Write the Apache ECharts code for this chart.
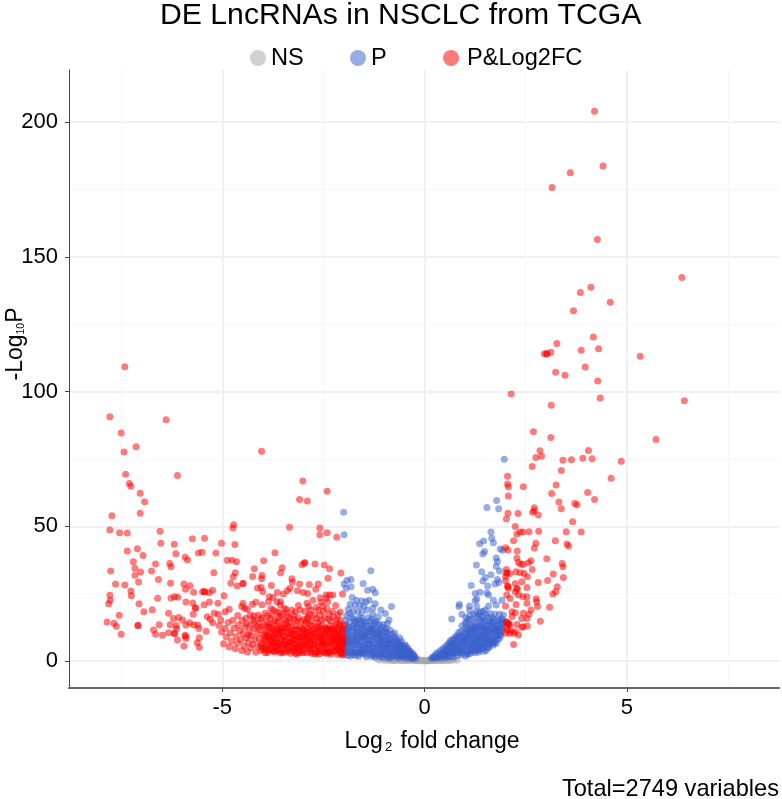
<!DOCTYPE html>
<html><head><meta charset="utf-8"><style>html,body{margin:0;padding:0;background:#fff}#c{width:782px;height:799px}</style>
<script src="https://cdn.jsdelivr.net/npm/echarts@6/dist/echarts.min.js"></script></head><body><div id="c"></div>
<script>
const xTickLabels=[-5,0,5];
const xMinorGrid=[-7.5,-2.5,2.5,7.5];
const yTickLabels=[0,50,100,150,200];
const yMinorGrid=[25,75,125,175];
const seriesNames=['NS','P','P&Log2FC'];
const redRightTop=[[4.20,204],[4.41,183.7],[3.60,181.2],[3.15,175.7],[4.27,156.4],[6.36,142.3],[4.11,138.7],[3.85,136.7],[4.59,133.1],[3.68,130],[4.17,120.2],[3.27,117.8],[3.87,115.3],[4.30,115.9],[3.12,114.6],[3.02,114],[3.02,114],[2.96,114],[5.33,113.1],[3.24,107.2],[3.47,106],[3.97,109.1],[4.28,103.9],[2.14,99.1],[4.34,97.6],[6.42,96.6],[3.13,94.9],[2.69,85.1],[3.12,82.9],[5.72,82.2],[2.85,78],[4.05,78.1],[2.89,76],[2.75,75.5],[3.42,74.5],[3.63,74.7],[3.91,75.2],[4.14,75.1],[4.86,74.1],[2.66,72.2],[3.38,70.7],[2.05,68.6],[4.61,67.8]];
const redRightLow=[[2.05,65.7],[2.07,64.7],[2.44,64.7],[2.07,61.2],[3.25,65.3],[3.14,62.2],[4.03,62.5],[4.20,59.9],[3.32,59],[3.38,56.5],[3.71,58.5],[3.77,58],[2.71,56.9],[2.71,55.8],[2.67,55.2],[2.81,54.2],[2.06,54.8],[2.31,54.7],[2.02,52.7],[3.66,51.7],[2.24,49.9],[2.36,47.9],[2.43,47.9],[2.28,47.1],[2.58,48],[2.82,48.2],[3.50,48],[3.87,47.9],[2.20,44.6],[2.75,43.7],[2.71,41.9],[3.23,44.6],[3.52,43.4],[3.56,42.7],[2.0,42],[2.06,41.2],[2.29,40.8],[2.28,38.2],[2.32,36.6],[2.63,37.2],[2.57,36.5],[2.44,35.9],[2.38,35.9],[3.02,38],[3.40,36.2],[3.42,35],[2.66,34],[2.02,34],[2.03,32.8],[2.03,32.6],[2.11,32.5],[2.26,33.1],[2.36,32.8],[2.46,32.5],[2.54,31.3],[3.18,32.3],[3.43,31],[3.04,29.9],[2.81,29.1],[3.28,27.6],[3.24,25.7],[3.17,24.9],[2.0,31.5],[2.0,29.8],[2.24,28.8],[2.40,29.4],[2.05,27.8],[2.06,27.6],[2.07,27],[2.53,27.3],[2.28,27],[2.29,26.6],[2.24,25.7],[2.32,24.5],[2.43,23.9],[2.53,23.9],[2.03,24.5],[2.11,23.2],[2.76,23.1],[2.77,22],[2.26,21],[2.53,21.4],[2.79,20.2],[3.09,20],[2.0,20.4],[2.16,18.3],[2.24,17.9],[2.44,17.7],[2.63,18.9],[2.58,17.4],[2.40,15.8],[2.53,15.8],[2.86,14.8],[2.16,16.5],[2.28,13.6],[2.54,13],[2.44,12.7],[2.02,14.6],[2.03,14.3],[2.07,14],[2.08,13.7],[2.11,13.4],[2.02,12.7],[2.0,10.3],[2.1,10.3],[2.2,10.3],[2.32,9.7],[2.24,10.9],[2.2,6.1],[2.40,12.5],[2.05,11.5],[2.13,11.2]];
const redLeftSparse=[[-7.41,109.2],[-7.78,90.6],[-6.39,89.5],[-7.50,84.6],[-7.13,79.5],[-7.43,77.6],[-7.39,69.3],[-6.11,68.8],[-7.30,65.9],[-7.26,64.9],[-7.03,62.3],[-6.92,59.1],[-7.73,53.9],[-7.03,54.8],[-4.03,77.8],[-3.01,66.8],[-2.41,63],[-3.09,59.9],[-2.90,59.4],[-3.34,49.6],[-2.59,49.4],[-2.41,47.6],[-2.59,46.9],[-2.17,45.9],[-3.70,40.2],[-3.98,37.2],[-2.97,36.4],[-2.96,36.5],[-3.03,35.7],[-2.71,36],[-2.48,35.6],[-2.35,34.2],[-4.21,34.2],[-3.52,34.6],[-3.56,32.8],[-4.25,31.4],[-4.02,31.7],[-4.03,30.5],[-2.07,32.7],[-2.39,30.7],
[-7.78,48.6],[-7.54,47.6],[-7.35,47.5],[-6.54,48.2],[-6.52,43.7],[-6.19,43.3],[-5.74,45.4],[-5.44,45.6],[-5.02,43.7],[-4.72,50.6],[-4.74,49.4],[-4.69,43.2],[-7.35,40.8],[-7.10,41.7],[-6.96,39.2],[-6.15,39.8],[-5.92,38.5],[-5.86,37.5],[-5.59,40.1],[-5.50,40.4],[-5.16,40.1],[-4.88,37.4],[-4.76,37.4],[-4.65,36.8],[-7.20,36.8],[-7.16,34.4],[-7.02,33],[-7.16,31.8],[-7.76,33.4],[-6.65,36],[-6.30,36.2],[-6.27,35],[-6.75,33.4],[-6.58,30.3],[-7.07,29.3],[-7.64,28.6],[-7.41,28.2],[-7.26,26],[-7.25,24.2],[-7.78,24.4],[-7.77,22.6],[-7.81,21.3],[-6.28,28.9],[-5.21,32.8],[-4.68,32.8],[-4.73,31.3],[-4.79,28.9],[-4.49,28.8],[-4.63,27.8],[-5.95,28.6],[-5.80,27.9],[-5.91,26.6],[-5.71,25.5],[-5.49,25.7],[-5.45,25.7],[-5.43,25.7],[-5.24,26.3],[-5.32,25.3],[-4.96,24.2],[-6.60,23.3],[-6.27,23.4],[-6.18,23.9],[-6.10,23.7],[-7.06,21.3],[-6.73,19],[-6.94,18.3],[-7.55,17],[-7.85,14.5],[-7.68,14],[-7.62,12.9],[-7.50,9.9],[-7.09,13.2],[-7.08,13.2],[-6.33,17.7],[-5.90,21.9],[-5.73,21.5],[-5.45,20.9],[-5.32,21.9],[-5.11,21.4],[-5.67,19.8],[-5.66,19.6],[-5.72,17.4],[-6.21,15.8],[-6.08,16.2],[-5.98,15.2],[-6.56,13.5],[-6.70,11.5],[-6.65,9.9],[-6.48,9.6],[-6.29,13.5],[-6.14,13.2],[-6.13,12.1],[-6.33,10.5],[-6.19,10.3],[-6.18,10.2],[-5.90,13.4],[-5.81,14.2],[-5.71,13.4],[-5.61,13.4],[-5.58,12.1],[-5.92,9.6],[-5.91,9.2],[-5.90,8.4],[-6.11,7.8],[-5.95,5.6],[-5.57,8.6],[-5.62,6.8],[-5.57,5.1],[-5.40,11.1],[-5.37,16.4],[-5.30,15.5],[-5.20,17.7],[-5.10,17.4],[-5.24,14.2],[-5.04,15.2],[-4.93,18.3],[-4.83,19.2]];
const redMidScatter=[[-4.49,28.8],[-4.13,27.1],[-4.04,27.3],[-4.0,25.7],[-3.79,28],[-3.33,27],[-3.39,26.1],[-3.49,24.9],[-3.64,25.4],[-3.84,23.9],[-3.75,23.6],[-3.86,22],[-3.65,22],[-3.56,22],[-4.02,20.9],[-4.26,21.1],[-4.17,21.8],[-4.49,21.4],[-4.52,20.2],[-4.45,19.5],[-4.38,19.2],[-3.14,26.1],[-3.0,25.4],[-2.89,25.1],[-3.28,30.5],[-3.27,29.3],[-3.09,28.6],[-2.85,28.4],[-2.63,28.6],[-2.69,26.6],[-2.03,24.9],[-2.43,24.5],[-2.35,24.5],[-2.27,24.5],[-2.58,23.5],[-2.76,22.6],[-2.56,21.8],[-2.68,19.9],[-2.91,21.4],[-2.87,20.2],[-2.81,18.9],[-2.43,23.3],[-2.40,22],[-2.20,20.6],[-2.42,19.5],[-2.09,18.2],[-2.36,17.4],[-2.58,17],[-2.68,15.8],[-2.87,16.5],[-3.08,18.9],[-3.28,18.9],[-3.2,18.3],[-3.47,19.5],[-3.57,20.8],[-3.41,17.7],[-3.67,18.3],[-3.74,18.9],[-3.94,17.7],[-4.11,17],[-4.22,16.8],[-4.31,17.1],[-4.51,15],[-4.40,13.7],[-4.31,13.4],[-4.11,14],[-4.03,12.7],[-2.09,15.2],[-2.17,15.2],[-3.24,17],[-3.32,15.8],[-3.57,16.5],[-3.82,15.8],[-3.9,14.6],[-2.47,15.9],[-2.98,15.4],[-3.12,16.1],[-3.47,15.2],[-3.7,14.9],[-3.05,14.8],[-2.25,16.3],[-2.8,14.9]];
const redDense=[[-5.08,13.2],[-5.02,10.8],[-4.97,6.4],[-4.93,12.1],[-4.9,8.9],[-4.86,14.3],[-4.83,5.2],[-4.8,10.4],[-4.77,7.3],[-4.74,15.1],[-4.71,12.3],[-4.68,4.6],[-4.66,9.1],[-4.62,6.6],[-4.6,13.4],[-4.57,11.2],[-4.54,7.9],[-4.52,3.9],[-4.49,10.1],[-4.46,5.6],[-4.44,12.6],[-4.41,8.6],[-4.38,3.4],[-4.36,6.9],[-4.33,11.1],[-4.3,4.8],[-4.28,9.3],[-4.25,6.2],[-4.22,12.2],[-4.19,7.9],[-4.17,3.3],[-4.14,10.4],[-4.12,5.4],[-4.09,8.4],[-4.07,11.6],[-4.04,3.9],[-4.02,6.8],[-3.99,9.7],[-3.97,13.3],[-3.95,4.9],[-3.93,7.6],[-3.9,11.3],[-3.88,3.2],[-3.86,6.1],[-3.84,9.1],[-3.82,12.6],[-3.8,4.4],[-3.78,7.2],[-3.76,10.3],[-3.74,14.1],[-3.72,3.4],[-3.7,5.7],[-3.68,8.5],[-3.66,11.9],[-3.64,4.1],[-3.62,6.7],[-3.6,9.6],[-3.58,13.2],[-3.56,3],[-3.54,5.2],[-3.52,7.8],[-3.5,10.9],[-3.48,3.9],[-3.46,6.3],[-3.44,9.1],[-3.42,12.4],[-3.4,4.7],[-3.38,7.1],[-3.36,10.1],[-3.34,14.2],[-3.32,2.9],[-3.3,5.6],[-3.28,8.3],[-3.26,11.5],[-3.24,3.8],[-3.22,6.4],[-3.2,9.3],[-3.18,13.1],[-3.16,2.6],[-3.14,5],[-3.12,7.5],[-3.1,10.6],[-3.08,3.6],[-3.06,6.1],[-3.04,8.8],[-3.02,12.1],[-3,4.4],[-2.98,7],[-2.96,9.9],[-2.94,13.7],[-2.92,3.1],[-2.9,5.5],[-2.88,8.1],[-2.86,11.2],[-2.84,3.9],[-2.82,6.4],[-2.8,9.2],[-2.78,12.8],[-2.76,2.7],[-2.74,4.9],[-2.72,7.5],[-2.7,10.4],[-2.68,3.4],[-2.66,5.9],[-2.64,8.7],[-2.62,11.9],[-2.6,2.5],[-2.58,4.6],[-2.56,7.1],[-2.54,9.8],[-2.52,13.4],[-2.5,3.2],[-2.48,5.6],[-2.46,8.2],[-2.44,11.1],[-2.42,2.8],[-2.4,4.9],[-2.38,7.4],[-2.36,10.1],[-2.34,13.1],[-2.32,2.5],[-2.3,5.2],[-2.28,7.8],[-2.26,10.6],[-2.24,3.5],[-2.22,6.1],[-2.2,8.9],[-2.18,12.2],[-2.16,2.4],[-2.14,4.5],[-2.12,7],[-2.1,9.6],[-2.08,12.9],[-2.06,3],[-2.05,5.4],[-2.04,8.1],[-2.03,10.7],[-2.02,2.2],[-2.01,6.3],[-2,13.5],[-4.35,9.6],[-4.15,12.9],[-3.95,10.2],[-3.75,12.3],[-3.61,12.2],[-3.55,8.3],[-3.45,13.7],[-3.37,5.6],[-3.29,12.9],[-3.21,4.4],[-3.13,11.6],[-3.03,5.6],[-2.97,11.2],[-2.89,6.7],[-2.83,13.6],[-2.77,8.1],[-2.71,12.1],[-2.65,3.4],[-2.59,9.4],[-2.53,6.1],[-2.47,3.4],[-2.41,9],[-2.35,3.4],[-2.31,11.9],[-2.27,4.1],[-2.19,5.2],[-2.15,10.3],[-2.11,3.6],[-2.07,7],[-3.69,10.4],[-3.83,7.9],[-3.89,9.1],[-3.79,5.8],[-3.65,7.1],[-3.53,12.3],[-3.43,6.1],[-3.35,8.6],[-3.25,9.9],[-3.17,8.1],[-3.09,9.1],[-3.01,9.7],[-2.93,7.9],[-2.85,9.7],[-2.75,10.1],[-2.63,6.9],[-2.55,11.9],[-2.45,12.4],[-2.37,11.6],[-2.29,9.4],[-2.21,11.1],[-2.13,11.6],[-2.09,5.9]];
const redDenseMore=[[-4.2,14.8],[-4.05,15.6],[-3.88,16.9],[-3.77,17],[-3.6,18.1],[-3.52,17.4],[-3.37,16.6],[-3.16,14.9],[-2.92,14.6],[-2.72,17.1],[-2.5,18.4],[-2.33,14.9],[-2.14,17.3],[-2.56,15.1],[-3.98,4.4],[-3.92,9.2],[-3.87,12.6],[-3.81,8.4],[-3.77,3.9],[-3.73,11.4],[-3.71,8.1],[-3.67,5.1],[-3.63,9.9],[-3.59,3.7],[-3.57,11.1],[-3.51,5.9],[-3.49,9.1],[-3.47,12.3],[-3.41,3.4],[-3.39,10.6],[-3.33,6.9],[-3.31,11.1],[-3.27,4.6],[-3.23,7.9],[-3.19,11.6],[-3.15,6.1],[-3.11,3.1],[-3.07,12.6],[-3.05,7.4],[-2.99,3.3],[-2.95,5.9],[-2.91,10.6],[-2.87,4.9],[-2.81,3.1],[-2.79,11.1],[-2.73,5.9],[-2.69,8.9],[-2.67,12.9],[-2.61,5.2],[-2.57,8.4],[-2.51,10.6],[-2.49,7.1],[-2.43,4],[-2.39,11.6],[-2.33,6.4],[-2.25,8.4],[-2.23,12.9],[-2.17,7.9],[-2.12,4.9],[-2.1,13.6],[-2.06,9.4],[-2.04,4.1],[-2.03,11.9],[-2.01,8.9],[-4.06,6],[-4.01,5],[-3.96,7.9],[-3.91,5.6],[-3.85,4],[-3.75,6.6],[-3.69,3.6],[-3.63,5.6],[-3.55,10.6],[-3.45,7.6],[-3.35,3.9],[-3.29,7.1],[-3.19,5.4],[-3.13,9.1],[-3.03,3.2],[-2.97,8.6],[-2.89,12.1],[-2.83,7.6],[-2.75,6.1],[-2.65,10.6],[-2.59,3.6],[-2.53,8],[-2.47,10],[-2.41,6.4],[-2.37,3.1],[-2.31,7.1],[-2.27,11.6],[-2.21,3.9],[-2.15,6.4],[-2.11,8.1],[-2.07,2.6],[-2.05,11.6]];
const redDenseThird=[[-4.62,16.9],[-4.42,15.9],[-4.25,15.4],[-4.02,16.1],[-3.8,19.4],[-3.62,15.9],[-3.42,19.1],[-3.12,20.6],[-2.96,18.4],[-2.84,17.4],[-2.62,18.9],[-2.52,20.4],[-2.28,18.4],[-2.18,13.9],[-2.38,15.6],[-2.64,14.4],[-2.9,15.9],[-3.22,15.4],[-3.42,14.9],[-3.62,14.4],[-3.85,13.6],[-3.94,3.1],[-3.83,10.6],[-3.73,8.9],[-3.6,6.1],[-3.5,3.1],[-3.38,12.9],[-3.28,10.1],[-3.2,2.9],[-3.1,5.1],[-3,11.6],[-2.9,9.1],[-2.8,4.4],[-2.7,2.6],[-2.6,12.6],[-2.5,6.4],[-2.42,12.1],[-2.33,9.1],[-2.24,7.4],[-2.16,9.4],[-2.08,4.6],[-2.03,6.9]];
const blueSparse=[[1.97,74.9],[-2.0,55.2],[-1.99,46.9],[-1.33,33.5],[-1.82,30.3],[-1.92,30],[-1.99,28.6],[-1.94,27],[-1.82,27.6],[-1.52,28.8],[-1.41,26.3],[-1.28,26.6],[-1.22,25.3],[-1.79,23.6],[-1.68,22.6],[-1.55,22.4],[-1.45,22],[-1.37,22.6],[-1.84,21.1],[-1.72,20.9],[-1.6,20.4],[-1.5,20.2],[-1.22,21.3],[-1.28,19.6],[-0.82,20.2],[-1.08,18.9],[-1.28,17.4],[-0.97,17.6],[-1.14,16.4],[-1.89,19.2],[-1.76,18.6],[-1.65,18.3],[-1.55,17.9],[-1.42,18.9],[-1.93,16.9],[-1.8,16.3],[-0.88,15.2],
[1.78,59.6],[1.54,57],[1.83,56.5],[1.64,47.9],[1.46,44.5],[1.36,43.5],[1.66,45.6],[1.70,43.9],[1.87,41.6],[1.93,41.1],[1.48,40.6],[1.44,39.7],[1.77,38.2],[1.80,36.9],[1.28,35.6],[1.77,35.2],[1.85,33.4],[1.41,33.1],[1.64,32],[1.50,31],[1.44,29.7],[1.80,30.3],[1.83,29.1],[1.74,28.6],[1.15,28],[1.56,27.8],[1.37,25.5],[1.25,25.1],[1.54,25.3],[1.58,24.5],[1.29,23],[1.25,22.4],[1.70,22.6],[1.91,22.6],[1.77,20.8],[0.86,21.1],[0.85,20.2],[1.11,20.4],[1.29,20.2],[1.58,20.4],[1.50,18.9],[1.11,18.9],[0.92,17.4],[0.67,15.6],[1.74,17.4],[1.85,17.4],[1.95,17.1],[1.37,18.3],[1.95,14],[1.91,10.9],[1.62,17.6],[1.22,17.4],[1.02,16.2],[1.84,14.9]];
const blueLeftDense=[[-1.99,2.4],[-1.98,5.1],[-1.97,8.3],[-1.96,11.6],[-1.95,13.2],[-1.93,3.2],[-1.91,6.6],[-1.89,9.8],[-1.87,12.7],[-1.85,14.6],[-1.83,1.9],[-1.81,4.4],[-1.79,7.6],[-1.77,10.9],[-1.75,13.4],[-1.73,3.1],[-1.71,5.9],[-1.69,8.9],[-1.67,11.8],[-1.65,15],[-1.63,1.8],[-1.61,4.3],[-1.59,7.3],[-1.57,10.2],[-1.55,12.9],[-1.53,2.7],[-1.51,5.5],[-1.49,8.4],[-1.47,11.1],[-1.45,14.3],[-1.43,1.6],[-1.41,3.9],[-1.39,6.6],[-1.37,9.4],[-1.35,12.2],[-1.33,2.4],[-1.31,5],[-1.29,7.7],[-1.27,10.4],[-1.25,13.8],[-1.23,1.5],[-1.21,3.5],[-1.19,6],[-1.17,8.6],[-1.15,11.2],[-1.13,2.2],[-1.11,4.4],[-1.09,6.9],[-1.07,9.4],[-1.05,12.6],[-1.03,1.3],[-1.01,3.2],[-0.99,5.4],[-0.97,7.8],[-0.95,10.4],[-0.93,2],[-0.91,3.9],[-0.89,6.1],[-0.87,8.5],[-0.85,11.4],[-0.83,1.2],[-0.81,2.9],[-0.79,4.8],[-0.77,6.9],[-0.75,9.1],[-0.73,1.8],[-0.71,3.5],[-0.69,5.3],[-0.67,7.2],[-0.65,1.1],[-0.63,2.5],[-0.61,4.1],[-0.59,5.7],[-0.57,7.4],[-0.55,1.5],[-0.53,2.9],[-0.51,4.4],[-0.49,6],[-0.47,1],[-0.45,2.2],[-0.43,3.4],[-0.41,4.7],[-0.39,1.3],[-0.37,2.4],[-0.35,3.6],[-0.33,0.9],[-0.31,1.8],[-0.29,2.8],[-0.27,1.1],[-0.25,2],[-0.22,1],[-1.96,3.9],[-1.92,10.6],[-1.88,4.9],[-1.84,8.7],[-1.8,12.3],[-1.76,2.4],[-1.72,7.3],[-1.68,13.9],[-1.64,6],[-1.6,9.6],[-1.56,3.5],[-1.52,11.9],[-1.48,6.2],[-1.44,9.1],[-1.4,13.2],[-1.36,4.4],[-1.32,10.8],[-1.28,3.4],[-1.24,8.1],[-1.2,12.3],[-1.16,5.1],[-1.12,9.8],[-1.08,3.2],[-1.04,7.9],[-1,10.9],[-0.96,4.4],[-0.92,8.6],[-0.88,2.9],[-0.84,6.6],[-0.8,9.9],[-0.76,3.9],[-0.72,6],[-0.68,2.1],[-0.64,4.9],[-0.6,6.6],[-0.56,3.4],[-0.52,1.9],[-0.48,4.9],[-0.44,2.7],[-0.4,3.9],[-0.36,1.7],[-0.32,2.4],[-1.7,2.1],[-1.5,3.2],[-1.3,1.7],[-1.1,1.7],[-0.9,1.2],[-1.6,12.1],[-1.42,11.4],[-1.26,11.6],[-1.1,12],[-0.94,12.1],[-1.86,6.9],[-1.66,3.4],[-1.46,4.6],[-1.26,6.4],[-1.06,5.2],[-0.86,4.6]];
const blueLeftMore=[[-1.97,6.4],[-1.94,9.4],[-1.9,2.1],[-1.86,11.2],[-1.82,5.6],[-1.78,3.4],[-1.74,9.6],[-1.7,12.6],[-1.66,8.1],[-1.62,2.9],[-1.58,5.6],[-1.54,8.9],[-1.5,13.6],[-1.46,2.4],[-1.42,7.6],[-1.38,10.9],[-1.34,6.1],[-1.3,13.1],[-1.26,2.4],[-1.22,9.9],[-1.18,3.9],[-1.14,7.4],[-1.1,10.6],[-1.06,2.6],[-1.02,6.1],[-0.98,9.1],[-0.94,6.4],[-0.9,10.1],[-0.86,1.9],[-0.82,7.9],[-0.78,2.4],[-0.74,5.4],[-0.7,7.9],[-0.66,3.4],[-0.62,5.6],[-0.58,1.9],[-0.54,5.4],[-0.5,3.4],[-0.46,5.6],[-0.42,1.9],[-0.38,3.1],[-0.34,2.4],[-0.3,1.2],[-0.26,1.6],[-1.95,15.1],[-1.75,15.6],[-1.55,15.9],[-1.35,14.9],[-1.18,14.4],[-1.02,13.6],[-1.72,14.6],[-1.52,14.9],[-1.3,15.6],[-1.12,13.6],[-0.92,13.9],[-0.74,10.4],[-0.62,8.6],[-1.85,17.6],[-1.62,15.9],[-1.4,16.1]];
const blueLeftThird=[[-1.98,7.1],[-1.95,4.1],[-1.92,8.4],[-1.88,7.4],[-1.84,3.2],[-1.8,6.4],[-1.76,8.6],[-1.72,4.4],[-1.68,6.6],[-1.64,10.6],[-1.6,3.1],[-1.56,7.9],[-1.52,5.1],[-1.48,10.1],[-1.44,3.4],[-1.4,6.1],[-1.36,7.9],[-1.32,3.6],[-1.28,9.1],[-1.24,5.4],[-1.2,2.4],[-1.16,9.9],[-1.12,6.1],[-1.08,8.1],[-1.04,4.6],[-1,2.4],[-0.96,6.4],[-0.92,4.9],[-0.88,7.4],[-0.84,3.6],[-0.8,5.9],[-0.76,2.4],[-0.72,8.1],[-0.68,4.4],[-0.64,6.1],[-0.6,2.6],[-0.56,4.9],[-0.52,3.6],[-0.48,2.4],[-0.44,4.1],[-0.4,2.6],[-0.36,2.9],[-1.9,12.4],[-1.7,10.6],[-1.5,9.6],[-1.3,11.9],[-1.1,7.6],[-0.98,11.6],[-1.58,13.9],[-1.22,14.9]];
const blueRightDense=[[0.17,0.9],[0.2,1.5],[0.23,1.1],[0.25,2.1],[0.27,1.3],[0.29,2.8],[0.31,1.1],[0.33,2.1],[0.35,3.4],[0.37,1.4],[0.39,2.6],[0.41,4.1],[0.43,1.2],[0.45,2.9],[0.47,4.8],[0.49,1.6],[0.51,3.4],[0.53,5.6],[0.55,1.3],[0.57,2.8],[0.59,4.6],[0.61,6.8],[0.63,1.7],[0.65,3.4],[0.67,5.4],[0.69,8.1],[0.71,1.4],[0.73,2.9],[0.75,4.6],[0.77,6.6],[0.79,9.4],[0.81,2],[0.83,3.8],[0.85,5.6],[0.87,7.8],[0.89,10.9],[0.91,2.4],[0.93,4.2],[0.95,6.4],[0.97,8.6],[0.99,12.1],[1.01,1.9],[1.03,3.4],[1.05,5.4],[1.07,7.4],[1.09,9.9],[1.11,13.4],[1.13,2.9],[1.15,4.6],[1.17,6.8],[1.19,9],[1.21,11.6],[1.23,14.6],[1.25,3.1],[1.27,5.4],[1.29,7.6],[1.31,10.1],[1.33,12.9],[1.35,15.8],[1.37,4.1],[1.39,6.2],[1.41,8.6],[1.43,11.4],[1.45,14.4],[1.47,3.6],[1.49,5.6],[1.51,7.9],[1.53,10.4],[1.55,13.1],[1.57,16.2],[1.59,4.9],[1.61,7.1],[1.63,9.4],[1.65,12],[1.67,14.9],[1.69,5.9],[1.71,8.2],[1.73,10.8],[1.75,13.4],[1.77,6.6],[1.79,9.4],[1.81,12.2],[1.83,15.2],[1.85,8.4],[1.87,11.2],[1.89,13.9],[1.93,12.3],[0.42,2.6],[0.5,2.4],[0.56,4.1],[0.6,3.2],[0.66,6.6],[0.7,4.2],[0.74,7.9],[0.78,3.4],[0.82,6.9],[0.86,9.2],[0.9,4.9],[0.94,7.6],[0.98,10.4],[1.02,6.4],[1.06,8.8],[1.1,3.9],[1.14,11.1],[1.18,8],[1.22,5.6],[1.26,12.6],[1.3,8.8],[1.34,6.1],[1.38,10.6],[1.42,13.6],[1.46,9.4],[1.5,12.4],[1.54,6.6],[1.58,14.8],[1.62,11.1],[1.66,8.4],[1.7,13.2],[1.74,7.4],[1.78,11.2],[1.82,9.7],[0.92,13.1],[1.04,14.4],[1.16,15.6],[1.3,16.4],[1.44,16.4],[1.08,2.6],[1.2,3.6],[1.34,3.4],[1.46,4.8],[1.6,6]];
const blueRightMore=[[0.48,3.6],[0.54,2.2],[0.58,6.1],[0.62,4.4],[0.64,7.6],[0.68,2.6],[0.72,6.1],[0.76,8.8],[0.8,4.9],[0.84,10.6],[0.88,3.4],[0.92,9.4],[0.96,5.1],[1,7.6],[1,14.1],[1.04,9.4],[1.08,11.4],[1.12,5.6],[1.12,8.6],[1.16,12.9],[1.2,6.9],[1.24,10.4],[1.28,4.1],[1.28,13.9],[1.32,7.4],[1.36,12.4],[1.36,5.1],[1.4,9.6],[1.4,15.1],[1.44,6.9],[1.48,12.1],[1.48,14.9],[1.52,9.1],[1.56,5.1],[1.56,11.6],[1.6,13.4],[1.6,8.4],[1.64,6.6],[1.68,10.6],[1.72,6.6],[1.72,15.4],[1.76,9.4],[1.8,13.4],[1.84,11.4],[1.88,9.4],[1.9,15.6],[1.68,16.1],[1.52,17.1],[1.36,17.4],[1.16,12.4],[1.08,15.4],[1.24,12.1],[1.52,3.9],[1.42,5.1]];
const blueRightThird=[[0.52,4.4],[0.58,3.4],[0.64,5.6],[0.7,6.6],[0.72,3.4],[0.78,5.4],[0.82,8.4],[0.84,3.1],[0.88,6.4],[0.92,3.1],[0.96,7.1],[1,4.6],[1,9.6],[1.04,2.6],[1.04,12.1],[1.08,6.1],[1.12,10.4],[1.16,3.9],[1.16,9.9],[1.2,5.1],[1.24,8.1],[1.28,6.4],[1.28,11.1],[1.32,4.4],[1.32,9.4],[1.36,8.1],[1.4,4.9],[1.4,12.4],[1.44,8.4],[1.48,7.1],[1.48,10.1],[1.52,11.1],[1.56,8.1],[1.6,10.6],[1.64,14.1],[1.68,7.1],[1.72,12.1],[1.76,11.6],[1.8,7.9],[1.84,9.9],[1.88,12.4],[1.94,15.1],[1.44,18.4],[1.28,18.1],[1.12,16.9]];
const grayNS=[[-1.18,0.9],[-1.12,0.4],[-1.05,0.6],[-0.98,0.2],[-0.93,0.8],[-0.87,0.4],[-0.82,0.1],[-0.78,0.7],[-0.73,0.3],[-0.69,0.9],[-0.64,0.2],[-0.6,0.6],[-0.56,0.1],[-0.52,0.7],[-0.48,0.3],[-0.44,0.8],[-0.4,0.1],[-0.37,0.5],[-0.33,0.3],[-0.3,0.7],[-0.26,0.1],[-0.23,0.5],[-0.2,0.2],[-0.17,0.7],[-0.14,0.1],[-0.11,0.4],[-0.08,0.1],[-0.05,0.3],[-0.02,0],[0.01,0.2],[0.04,0],[0.07,0.3],[0.1,0.1],[0.13,0.5],[0.16,0.2],[0.19,0.1],[0.22,0.5],[0.25,0.1],[0.28,0.6],[0.31,0.2],[0.35,0.7],[0.39,0.1],[0.43,0.5],[0.47,0.2],[0.51,0.7],[0.55,0.1],[0.6,0.5],[0.66,0.2],[0.72,0.5],[-0.9,0.5],[-0.75,0.1],[-0.62,0.4],[-0.5,0.1],[-0.42,0.4],[-0.28,0.3],[-0.18,0.3],[-0.09,0.2],[0.02,0.1],[0.12,0.2],[0.2,0.3],[0.3,0.4],[0.37,0.3],[0.45,0.3],[0.58,0.3],[0.8,0.3]];
const red=[].concat(redRightTop,redRightLow,redLeftSparse,redMidScatter,redDense,redDenseMore,redDenseThird);
const blue=[].concat(blueSparse,blueLeftDense,blueLeftMore,blueLeftThird,blueRightDense,blueRightMore,blueRightThird);
const sym=7;
const F='"Liberation Sans",Arial,sans-serif';
const chart=echarts.init(document.getElementById('c'));
const mk=(n,d,c)=>({name:n,type:'scatter',data:d,symbolSize:sym,itemStyle:{color:c,opacity:0.52,borderWidth:0},silent:true,animation:false,clip:false});
const subRich={a:{fontFamily:F,fontSize:23,color:'#000'},b:{fontFamily:F,fontSize:13,color:'#000',verticalAlign:'bottom',padding:[11,2,0,2]}};
const subRichY={a:{fontFamily:F,fontSize:23,color:'#000'},b:{fontFamily:F,fontSize:10.5,color:'#000',verticalAlign:'bottom',padding:[12,0,0,0]}};
const legendBase={top:41,itemWidth:16,itemHeight:16,icon:'circle',textStyle:{fontFamily:F,fontSize:23.6,color:'#000'}};
chart.setOption({animation:false,backgroundColor:'#fff',
title:[{text:'DE LncRNAs in NSCLC from TCGA',left:155,top:-4,textStyle:{fontFamily:F,fontWeight:'normal',fontSize:30.2,color:'#000'}},
{text:'Total=2749 variables',right:-2,top:772,textStyle:{fontFamily:F,fontWeight:'normal',fontSize:23.6,color:'#000'}}],
legend:[{...legendBase,left:245,data:[seriesNames[0]]},{...legendBase,left:345,data:[seriesNames[1]]},{...legendBase,left:438,data:[{name:seriesNames[2],textStyle:{padding:[0,0,0,3]}}]}],
grid:{left:69,right:3,top:70,bottom:111,outerBoundsMode:'none',containLabel:false},
xAxis:[{type:'value',min:-8.79,max:8.76,name:'{a|Log}{b|2}{a| fold change}',nameLocation:'middle',nameGap:42,
nameTextStyle:{padding:[0,0,0,16],rich:subRich},
axisLine:{onZero:false,lineStyle:{color:'#666',width:2}},axisTick:{show:true,length:4,lineStyle:{color:'#444'},customValues:xTickLabels},
axisLabel:{fontFamily:F,fontSize:22,color:'#000',margin:9,customValues:xTickLabels},
splitLine:{show:true,lineStyle:{color:'#f0f0f0',width:2}}},
{type:'value',min:-8.79,max:8.76,position:'top',axisLine:{show:false},axisTick:{show:false,customValues:xMinorGrid},axisLabel:{show:false,customValues:xMinorGrid},splitLine:{show:true,lineStyle:{color:'#f6f6f6',width:1}}}],
yAxis:[{type:'value',min:-10,max:219.3,name:'{a|-Log}{b|10}{a|P}',nameLocation:'middle',nameGap:42,nameMoveOverlap:false,
nameTextStyle:{padding:[0,0,0,70],rich:subRichY},
axisLine:{onZero:false,lineStyle:{color:'#444',width:1}},axisTick:{show:true,length:4,lineStyle:{color:'#444'},customValues:yTickLabels},
axisLabel:{fontFamily:F,fontSize:22,color:'#000',margin:11,customValues:yTickLabels},
splitLine:{show:true,lineStyle:{color:'#f0f0f0',width:2}}},
{type:'value',min:-10,max:219.3,position:'right',axisLine:{show:false},axisTick:{show:false,customValues:yMinorGrid},axisLabel:{show:false,customValues:yMinorGrid},splitLine:{show:true,lineStyle:{color:'#f6f6f6',width:1}}}],
series:[mk(seriesNames[0],grayNS,'#a6a6a6'),mk(seriesNames[1],blue,'#3a5fcd'),mk(seriesNames[2],red,'#ff0000')]});
</script></body></html>
